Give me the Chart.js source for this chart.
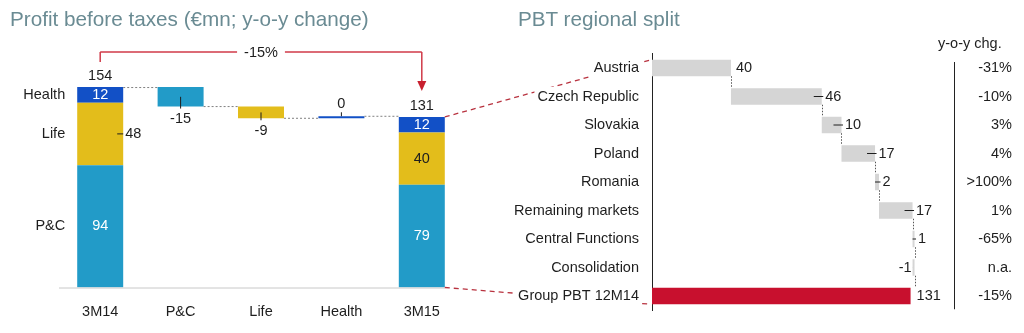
<!DOCTYPE html>
<html><head><meta charset="utf-8">
<script src="https://cdn.jsdelivr.net/npm/chart.js@4"></script>
<style>
html,body{margin:0;padding:0;background:#fff;}
#wrap{position:relative;width:1024px;height:333px;overflow:hidden;font-family:"Liberation Sans",Arial,sans-serif;}
canvas{position:absolute;left:0;top:0;}
.title{position:absolute;font-size:20.7px;color:#6a8b93;white-space:nowrap;line-height:1;}
</style></head><body>
<div id="wrap">
<canvas id="left" width="1024" height="333"></canvas>
<canvas id="right" width="1024" height="333"></canvas>
<div class="title" style="left:10px;top:9px;">Profit before taxes (€mn; y-o-y change)</div>
<div class="title" style="left:518px;top:9px;">PBT regional split</div>
</div>
<script>
// ---------- DATA ----------
const leftCategories = ['3M14', 'P&C', 'Life', 'Health', '3M15'];
const segmentNames = ['P&C', 'Life', 'Health'];
const start3M14 = [94, 48, 12];     // P&C, Life, Health
const deltas = [-15, -9, 0];        // P&C, Life, Health change
const end3M15 = [79, 40, 12];       // P&C, Life, Health
const total3M15 = 131;
const yoyTotal = '-15%';

const regions = ['Austria', 'Czech Republic', 'Slovakia', 'Poland', 'Romania',
  'Remaining markets', 'Central Functions', 'Consolidation', 'Group PBT 12M14'];
const regionValues = [40, 46, 10, 17, 2, 17, 1, -1];
const groupTotal = 131;
const yoyChange = ['-31%', '-10%', '3%', '4%', '>100%', '1%', '-65%', 'n.a.', '-15%'];

// ---------- STYLE ----------
const FONT = '"Liberation Sans", Arial, sans-serif';
const FS = 14.5;
const TXT = '#1e1e1e';
const segColors = ['#229bc8', '#e3bd1b', '#1250c6'];
const grayBar = '#d5d5d5';
const redBar = '#c8102e';
const bracketRed = '#d03a48';
const connRed = '#b8323f';

// ---------- LEFT CHART DATA BUILD ----------
const total3M14 = start3M14.reduce((a, b) => a + b, 0);
const leftDatasets = segmentNames.map((name, k) => ({
  label: name,
  data: leftCategories.map(() => null),
  backgroundColor: segColors[k],
  barPercentage: 0.572,
  categoryPercentage: 1,
  grouped: false,
  minBarLength: 2
}));
let acc = 0;
start3M14.forEach((v, k) => { leftDatasets[k].data[0] = [acc, acc + v]; acc += v; });
let level = total3M14;
deltas.forEach((d, k) => { leftDatasets[k].data[1 + k] = [level + d, level]; level += d; });
acc = 0;
end3M15.forEach((v, k) => { leftDatasets[k].data[4] = [acc, acc + v]; acc += v; });

function txt(ctx, s, x, y, align, color) {
  ctx.save();
  ctx.font = FS + 'px ' + FONT;
  ctx.fillStyle = color || TXT;
  ctx.textAlign = align || 'center';
  ctx.textBaseline = 'middle';
  ctx.fillText(s, x, y);
  ctx.restore();
}
function line(ctx, x1, y1, x2, y2, color, w, dash) {
  ctx.save();
  ctx.strokeStyle = color; ctx.lineWidth = w || 1;
  ctx.setLineDash(dash || []);
  ctx.beginPath(); ctx.moveTo(x1, y1); ctx.lineTo(x2, y2); ctx.stroke();
  ctx.restore();
}
function box(el) {
  const top = Math.min(el.y, el.base), bot = Math.max(el.y, el.base);
  return { l: el.x - el.width / 2, r: el.x + el.width / 2, t: top, b: bot, cx: el.x, cy: (top + bot) / 2 };
}

const leftPlugin = {
  id: 'leftDecor',
  afterDatasetsDraw(chart) {
    const ctx = chart.ctx;
    const y0 = chart.scales.y.getPixelForValue(0);
    const els = (k, i) => box(chart.getDatasetMeta(k).data[i]);
    // baseline
    const last = els(0, 4);
    line(ctx, 59, y0 + 0.5, last.r, y0 + 0.5, '#c8c8c8', 1);
    // 3M14 stack
    const a = [els(0, 0), els(1, 0), els(2, 0)];
    a.forEach((b, k) => txt(ctx, segmentNames[k], b.l - 12, b.cy, 'right'));
    txt(ctx, String(start3M14[0]), a[0].cx, a[0].cy, 'center', '#fff');
    line(ctx, a[1].r - 6, a[1].cy, a[1].r, a[1].cy, TXT, 1);
    txt(ctx, String(start3M14[1]), a[1].r + 2, a[1].cy, 'left');
    txt(ctx, String(start3M14[2]), a[2].cx, a[2].cy, 'center', '#fff');
    txt(ctx, String(total3M14), a[2].cx, a[2].t - 11);
    // deltas
    const d = deltas.map((v, k) => els(k, 1 + k));
    d.forEach((b, k) => {
      if (deltas[k] < 0) {
        line(ctx, b.cx, b.cy, b.cx, b.b + 2, TXT, 1);
        txt(ctx, String(deltas[k]), b.cx, b.b + 12.6);
      } else {
        line(ctx, b.cx, b.t, b.cx, b.t - 4, TXT, 1);
        txt(ctx, String(deltas[k]), b.cx, b.t - 12.7);
      }
    });
    // 3M15 stack
    const e = [els(0, 4), els(1, 4), els(2, 4)];
    txt(ctx, String(end3M15[0]), e[0].cx, e[0].cy, 'center', '#fff');
    txt(ctx, String(end3M15[1]), e[1].cx, e[1].cy, 'center', TXT);
    txt(ctx, String(end3M15[2]), e[2].cx, e[2].cy, 'center', '#fff');
    txt(ctx, String(total3M15), e[2].cx, e[2].t - 11);
    // dotted connectors
    const dash = [2, 2], gc = '#808080';
    line(ctx, a[2].r, a[2].t + 0.5, d[0].l, a[2].t + 0.5, gc, 1, dash);
    line(ctx, d[0].r, d[0].b, d[1].l, d[0].b, gc, 1, dash);
    line(ctx, d[1].r, d[1].b, d[2].l, d[1].b, gc, 1, dash);
    line(ctx, d[2].r, d[2].t, e[2].l, d[2].t, gc, 1, dash);
    // bracket
    const xl = a[2].cx, xr = e[2].cx, yb = 52;
    ctx.save();
    ctx.font = FS + 'px ' + FONT;
    const tw = ctx.measureText(yoyTotal).width;
    ctx.restore();
    const xm = (xl + xr) / 2;
    line(ctx, xl, 62, xl, yb, bracketRed, 1.5);
    line(ctx, xl, yb, xm - tw / 2 - 7, yb, bracketRed, 1.5);
    line(ctx, xm + tw / 2 + 7, yb, xr, yb, bracketRed, 1.5);
    line(ctx, xr, yb, xr, 82, bracketRed, 1.5);
    ctx.save();
    ctx.fillStyle = '#c8202f';
    ctx.beginPath(); ctx.moveTo(xr - 4.5, 81); ctx.lineTo(xr + 4.5, 81); ctx.lineTo(xr, 91); ctx.closePath(); ctx.fill();
    ctx.restore();
    txt(ctx, yoyTotal, xm, yb + 0.5);
  }
};

const leftChart = new Chart(document.getElementById('left'), {
  type: 'bar',
  data: { labels: leftCategories, datasets: leftDatasets },
  options: {
    responsive: false, animation: false, events: [],
    layout: { padding: { left: 60, right: 562, top: 59.7, bottom: 15.5 } },
    plugins: { legend: { display: false }, tooltip: { enabled: false } },
    scales: {
      x: {
        grid: { display: false, drawTicks: false }, border: { display: false },
        ticks: { font: { size: FS, family: FONT }, color: TXT, padding: 16, maxRotation: 0 },
        afterFit(s) { s.height = 30; }
      },
      y: { display: false, min: 0, max: 175 }
    }
  },
  plugins: [leftPlugin]
});

// ---------- RIGHT CHART ----------
let cum = 0;
const regionRanges = regionValues.map(v => { const r = [cum, cum + v]; cum += v; return r; });
regionRanges.push([0, groupTotal]);
const regionColors = regionValues.map(() => grayBar).concat([redBar]);

const rightPlugin = {
  id: 'rightDecor',
  beforeDraw(chart) {
    const ctx = chart.ctx;
    const meta = chart.getDatasetMeta(0);
    const lh = box(leftChart.getDatasetMeta(2).data[4]);
    const lp = box(leftChart.getDatasetMeta(0).data[4]);
    const ax = chart.chartArea.left;
    const aus = meta.data[0], grp = meta.data[meta.data.length - 1];
    line(ctx, lh.r, lh.t, ax - 1, aus.y - aus.height / 2, connRed, 1.3, [5, 4]);
    line(ctx, lp.r, lp.b, ax - 1, grp.y + grp.height / 2, connRed, 1.3, [5, 4]);
  },
  afterDatasetsDraw(chart) {
    const ctx = chart.ctx;
    const els = chart.getDatasetMeta(0).data;
    // vertical dotted connectors
    for (let i = 0; i < els.length - 1; i++) {
      const a = els[i], b = els[i + 1];
      const x = Math.round(a.x) + 0.5;
      line(ctx, x, a.y + a.height / 2, x, b.y - b.height / 2, '#555', 1, [1.5, 1.5]);
    }
    // value labels
    els.forEach((el, i) => {
      const isGroup = i === els.length - 1;
      const v = isGroup ? groupTotal : regionValues[i];
      const endX = el.x, startX = el.base;
      if (isGroup) { txt(ctx, String(v), endX + 6, el.y, 'left'); return; }
      if (i === 0) { txt(ctx, String(v), endX + 5, el.y, 'left'); return; }
      if (v >= 0) {
        line(ctx, Math.max(startX, endX - 8), el.y, endX + 1.5, el.y, TXT, 1);
        txt(ctx, String(v), endX + 3.5, el.y, 'left');
      } else {
        line(ctx, endX - 2, el.y, Math.min(startX, endX + 8), el.y, TXT, 1);
        txt(ctx, String(v), endX - 3, el.y, 'right');
      }
    });
  },
  afterDraw(chart) {
    const ctx = chart.ctx;
    const els = chart.getDatasetMeta(0).data;
    const ca = chart.chartArea;
    line(ctx, 954.5, 62, 954.5, ca.bottom - 1, '#222', 1);
    txt(ctx, 'y-o-y chg.', 938, 44, 'left');
    els.forEach((el, i) => txt(ctx, yoyChange[i], 1012, el.y, 'right'));
  }
};

const rightChart = new Chart(document.getElementById('right'), {
  type: 'bar',
  data: {
    labels: regions,
    datasets: [{ data: regionRanges, backgroundColor: regionColors, barPercentage: 0.58, categoryPercentage: 1 }]
  },
  options: {
    indexAxis: 'y',
    responsive: false, animation: false, events: [],
    layout: { padding: { left: 452, right: 70, top: 53.75, bottom: 22.75 } },
    plugins: { legend: { display: false }, tooltip: { enabled: false } },
    scales: {
      x: { display: false, min: 0, max: 153 },
      y: {
        grid: { display: false, drawTicks: false },
        border: { display: true, color: '#222', width: 1 },
        ticks: {
          font: { size: FS, family: FONT }, color: TXT, padding: 13,
          showLabelBackdrop: true, backdropColor: '#ffffff', backdropPadding: { x: 3, y: 1 }
        },
        afterFit(s) { s.width = 200; }
      }
    }
  },
  plugins: [rightPlugin]
});
</script>
</body></html>
